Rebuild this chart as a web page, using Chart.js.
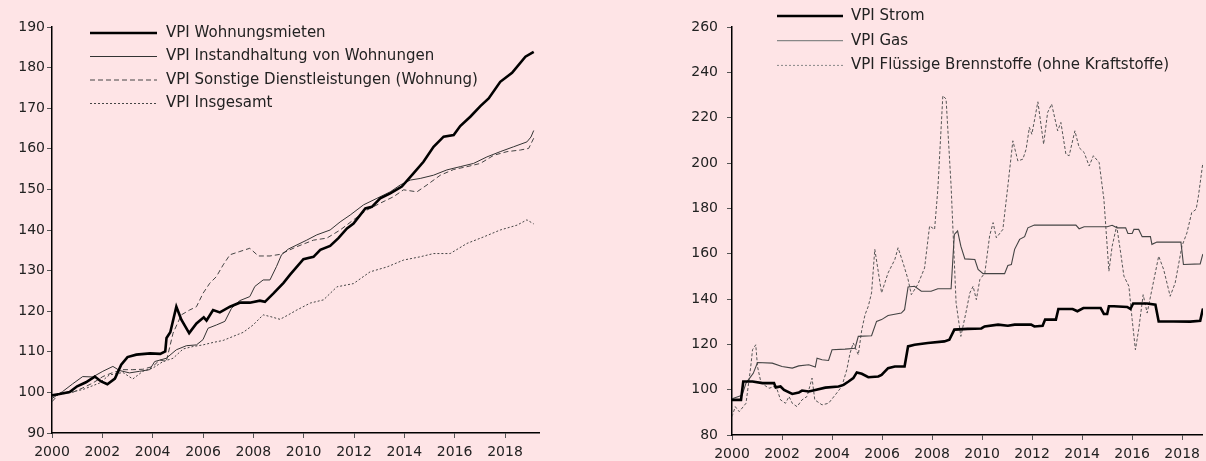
<!DOCTYPE html>
<html>
<head>
<meta charset="utf-8">
<script src="https://cdn.jsdelivr.net/npm/chart.js@4.4.1/dist/chart.umd.min.js"></script>
<style>
      html, body { margin: 0; padding: 0; background: #fee4e6; }
      body { width: 1206px; height: 461px; position: relative; overflow: hidden; }
      canvas { position: absolute; top: 0; }
      #wohnen_chart { left: 0; }
      #energie_chart { left: 640px; }
</style>
</head>
<body>
<canvas id="wohnen_chart" width="560" height="461"></canvas>
<canvas id="energie_chart" width="566" height="461"></canvas>
<script>
// x ticks (years)
const yearTicks = [2000, 2002, 2004, 2006, 2008, 2010, 2012, 2014, 2016, 2018];

// --- left chart: VPI Wohnen ---
const mietenT = [2000.0, 2000.3, 2000.7, 2001.0, 2001.35, 2001.7, 2001.95, 2002.2, 2002.5, 2002.75, 2003.0, 2003.35, 2003.9, 2004.3, 2004.5, 2004.55, 2004.7, 2004.94, 2005.14, 2005.45, 2005.74, 2006.03, 2006.14, 2006.4, 2006.67, 2007.07, 2007.46, 2007.86, 2008.26, 2008.46, 2008.8, 2009.2, 2009.46, 2009.99, 2010.39, 2010.66, 2011.05, 2011.38, 2011.72, 2011.98, 2012.45, 2012.71, 2013.04, 2013.44, 2013.9, 2014.37, 2014.76, 2015.16, 2015.56, 2015.96, 2016.22, 2016.62, 2017.02, 2017.35, 2017.81, 2018.28, 2018.81, 2019.14];
const mietenV = [99.3, 99.6, 100.1, 101.5, 102.5, 103.9, 102.7, 102.0, 103.4, 106.8, 108.7, 109.3, 109.6, 109.5, 110.1, 113.4, 114.8, 121.1, 117.9, 114.6, 117.0, 118.5, 117.7, 120.3, 119.7, 121.1, 122.1, 122.1, 122.6, 122.3, 124.4, 127.0, 129.0, 132.8, 133.4, 135.1, 136.1, 138.0, 140.4, 141.6, 145.3, 145.7, 147.8, 149.0, 150.7, 154.0, 156.8, 160.5, 163.0, 163.4, 165.6, 167.9, 170.5, 172.4, 176.5, 178.7, 182.7, 183.9];

const instandT = [2000.0, 2000.42, 2000.82, 2001.22, 2001.62, 2002.02, 2002.42, 2002.68, 2003.08, 2003.48, 2003.88, 2004.08, 2004.54, 2004.94, 2005.34, 2005.74, 2006.0, 2006.2, 2006.53, 2006.87, 2007.13, 2007.46, 2007.86, 2008.06, 2008.39, 2008.66, 2008.92, 2009.12, 2009.39, 2010.12, 2010.52, 2011.05, 2011.45, 2011.85, 2012.38, 2012.91, 2013.44, 2013.84, 2014.24, 2014.63, 2015.16, 2015.69, 2016.22, 2016.75, 2017.28, 2017.81, 2018.34, 2018.87, 2019.03, 2019.14];
const instandV = [98.5, 100.2, 102.1, 103.9, 103.8, 105.2, 106.4, 105.4, 104.8, 105.2, 105.6, 107.6, 108.4, 110.5, 111.5, 111.7, 113.0, 115.8, 116.6, 117.5, 120.7, 122.6, 123.6, 126.1, 127.7, 127.7, 131.0, 133.9, 135.3, 137.5, 138.8, 140.0, 142.0, 143.7, 146.2, 147.8, 149.4, 151.1, 152.3, 152.7, 153.5, 154.8, 155.6, 156.4, 158.0, 159.3, 160.5, 161.7, 162.9, 164.5];

const sonstT = [2000.0, 2000.3, 2000.82, 2001.22, 2001.62, 2002.02, 2002.42, 2002.82, 2003.21, 2003.61, 2004.01, 2004.28, 2004.54, 2004.81, 2005.14, 2005.47, 2005.74, 2006.0, 2006.27, 2006.53, 2006.8, 2007.07, 2007.46, 2007.86, 2008.2, 2008.66, 2009.06, 2009.73, 2010.39, 2010.92, 2011.45, 2011.98, 2012.51, 2013.04, 2013.57, 2013.97, 2014.5, 2014.9, 2015.43, 2015.96, 2016.49, 2017.02, 2017.55, 2018.08, 2018.61, 2018.94, 2019.14];
const sonstV = [97.7, 99.8, 100.0, 101.1, 102.3, 103.9, 104.9, 105.6, 105.6, 105.7, 106.4, 108.0, 107.6, 114.6, 119.1, 120.3, 121.1, 124.4, 126.9, 128.5, 131.4, 133.9, 134.7, 135.5, 133.6, 133.6, 134.0, 135.9, 137.5, 138.0, 140.0, 142.5, 144.9, 146.6, 148.2, 149.9, 149.4, 151.1, 153.5, 154.9, 155.6, 156.4, 158.4, 159.3, 159.7, 160.1, 162.6];

const gesamtT = [2000.0, 2000.56, 2001.22, 2001.89, 2002.28, 2002.82, 2003.21, 2003.61, 2004.01, 2004.41, 2004.81, 2005.21, 2005.6, 2006.0, 2006.4, 2006.8, 2007.2, 2007.6, 2007.99, 2008.39, 2008.66, 2009.06, 2009.39, 2009.73, 2010.26, 2010.79, 2011.32, 2011.98, 2012.64, 2013.31, 2013.97, 2014.63, 2015.16, 2015.82, 2016.49, 2017.15, 2017.81, 2018.48, 2018.87, 2019.14];
const gesamtV = [99.0, 99.8, 100.7, 102.3, 104.3, 104.9, 103.3, 105.2, 106.0, 107.6, 108.4, 110.7, 111.3, 111.7, 112.3, 112.8, 113.8, 114.8, 116.6, 119.1, 118.7, 118.0, 119.1, 120.3, 122.0, 122.8, 126.0, 126.8, 129.7, 130.9, 132.6, 133.4, 134.2, 134.2, 136.7, 138.3, 140.0, 141.2, 142.5, 141.5];

// --- right chart: VPI Energie ---
const stromT = [2000.0, 2000.36, 2000.45, 2000.82, 2001.22, 2001.68, 2001.75, 2001.94, 2002.08, 2002.41, 2002.67, 2002.8, 2003.07, 2003.33, 2003.73, 2004.26, 2004.46, 2004.66, 2004.85, 2004.99, 2005.19, 2005.45, 2005.85, 2005.98, 2006.24, 2006.51, 2006.9, 2007.04, 2007.3, 2007.83, 2008.49, 2008.69, 2008.89, 2009.42, 2009.97, 2010.1, 2010.64, 2011.03, 2011.3, 2011.96, 2012.09, 2012.42, 2012.52, 2012.95, 2013.05, 2013.62, 2013.81, 2014.05, 2014.74, 2014.87, 2015.0, 2015.07, 2015.27, 2015.8, 2015.93, 2016.04, 2016.6, 2016.93, 2017.06, 2017.66, 2018.32, 2018.72, 2018.82, 2018.9];
const stromV = [95.5, 95.5, 103.6, 103.6, 102.9, 102.9, 101.0, 101.4, 99.9, 98.1, 98.7, 99.6, 99.2, 99.9, 100.9, 101.4, 102.1, 103.6, 105.1, 107.6, 107.0, 105.5, 105.8, 106.5, 109.5, 110.2, 110.2, 119.1, 119.8, 120.6, 121.3, 122.0, 126.5, 126.8, 127.0, 127.9, 128.7, 128.2, 128.7, 128.7, 127.9, 128.2, 130.9, 130.9, 135.6, 135.6, 134.6, 136.0, 136.0, 133.4, 133.4, 136.8, 136.8, 136.5, 135.6, 138.0, 138.0, 137.5, 130.1, 130.1, 130.0, 130.4, 135.3, 135.5];

const gasT = [2000.0, 2000.4, 2000.56, 2000.85, 2001.02, 2001.61, 2002.0, 2002.41, 2002.67, 2003.07, 2003.33, 2003.4, 2003.6, 2003.86, 2004.0, 2004.52, 2004.92, 2005.05, 2005.58, 2005.78, 2005.98, 2006.24, 2006.77, 2006.9, 2007.04, 2007.3, 2007.57, 2007.96, 2008.23, 2008.76, 2008.89, 2009.02, 2009.15, 2009.31, 2009.71, 2009.84, 2010.04, 2010.9, 2011.03, 2011.17, 2011.3, 2011.5, 2011.7, 2011.83, 2012.09, 2013.75, 2013.88, 2014.08, 2015.0, 2015.2, 2015.4, 2015.74, 2015.83, 2016.0, 2016.07, 2016.26, 2016.4, 2016.73, 2016.79, 2016.99, 2017.95, 2018.05, 2018.72, 2018.82, 2018.9];
const gasV = [96.0, 97.5, 102.9, 107.2, 112.0, 111.7, 110.2, 109.5, 110.5, 111.0, 110.0, 113.9, 113.2, 112.9, 117.6, 117.9, 118.3, 123.5, 123.8, 130.1, 130.9, 132.7, 133.8, 135.3, 145.3, 145.6, 143.4, 143.4, 144.5, 144.5, 168.5, 170.0, 163.3, 157.7, 157.4, 153.0, 151.2, 151.2, 154.8, 155.2, 161.9, 166.3, 167.5, 171.4, 172.6, 172.6, 171.0, 171.9, 171.9, 172.5, 171.4, 171.4, 168.9, 168.9, 170.7, 170.7, 167.5, 167.5, 164.1, 165.1, 165.1, 155.2, 155.5, 159.6, 160.0];

const oelT = [2000.0, 2000.13, 2000.29, 2000.56, 2000.75, 2000.82, 2000.95, 2001.02, 2001.15, 2001.28, 2001.48, 2001.68, 2001.81, 2001.94, 2002.14, 2002.28, 2002.41, 2002.6, 2002.8, 2003.0, 2003.2, 2003.31, 2003.6, 2003.86, 2004.13, 2004.39, 2004.59, 2004.72, 2004.85, 2005.05, 2005.19, 2005.32, 2005.45, 2005.58, 2005.71, 2005.98, 2006.24, 2006.51, 2006.64, 2006.84, 2007.04, 2007.17, 2007.43, 2007.7, 2007.9, 2008.1, 2008.23, 2008.43, 2008.56, 2008.76, 2008.96, 2009.15, 2009.35, 2009.51, 2009.64, 2009.77, 2009.91, 2010.11, 2010.3, 2010.44, 2010.57, 2010.83, 2011.03, 2011.23, 2011.43, 2011.63, 2011.76, 2011.89, 2011.99, 2012.23, 2012.46, 2012.62, 2012.78, 2013.02, 2013.15, 2013.35, 2013.48, 2013.71, 2013.88, 2014.08, 2014.28, 2014.45, 2014.68, 2014.87, 2015.07, 2015.2, 2015.38, 2015.54, 2015.67, 2015.87, 2016.0, 2016.13, 2016.26, 2016.44, 2016.6, 2016.79, 2017.06, 2017.26, 2017.52, 2017.72, 2017.99, 2018.19, 2018.38, 2018.56, 2018.65, 2018.82, 2018.9];
const oelV = [88.1, 92.5, 90.3, 94.0, 110.2, 117.6, 119.8, 110.2, 103.6, 102.1, 100.6, 101.4, 99.9, 95.5, 94.0, 97.0, 94.0, 92.5, 95.5, 97.0, 105.1, 95.5, 93.3, 94.0, 97.7, 101.4, 108.8, 116.1, 120.6, 115.4, 126.5, 133.1, 136.8, 142.7, 161.9, 142.7, 151.5, 157.4, 162.6, 155.9, 148.6, 141.9, 146.4, 153.7, 172.2, 170.7, 188.4, 229.7, 228.2, 189.9, 138.3, 123.5, 133.8, 142.7, 145.6, 139.7, 148.6, 151.5, 167.8, 173.7, 167.0, 170.7, 189.9, 209.8, 200.9, 201.7, 206.1, 215.7, 212.7, 227.0, 208.3, 222.3, 226.0, 214.2, 217.9, 203.9, 203.2, 214.2, 206.8, 204.6, 198.7, 203.2, 200.2, 184.0, 152.3, 163.3, 172.2, 160.4, 150.1, 145.6, 130.9, 117.6, 126.5, 141.9, 133.8, 144.2, 158.9, 153.0, 141.2, 147.1, 163.3, 169.2, 178.1, 179.6, 185.5, 199.5, 201.0];

const font_family = '"DejaVu Sans", sans-serif';
const text_color = '#222';

function toPoints(t, v)
{
      return t.map(function (x, i) { return { x: x, y: v[i] }; });
}

function lineSet(label, t, v, width, dash, color)
{
      return {
            label: label,
            data: toPoints(t, v),
            borderColor: color,
            borderWidth: width,
            borderDash: dash,
            pointRadius: 0,
            tension: 0,
            fill: false
      };
}

// legend drawn as a plain list of line samples
const legendPlugin = {
      id: 'lineLegend',
      afterDraw: function (chart, args, opts)
      {
            const ctx = chart.ctx;
            ctx.save();
            ctx.font = '15px ' + font_family;
            ctx.textBaseline = 'middle';
            ctx.fillStyle = text_color;
            opts.items.forEach(function (item, i)
            {
                  const y = opts.top + i * opts.step;
                  ctx.beginPath();
                  ctx.lineWidth = item.width;
                  ctx.strokeStyle = item.color;
                  ctx.setLineDash(item.dash);
                  ctx.moveTo(opts.x0, y);
                  ctx.lineTo(opts.x1, y);
                  ctx.stroke();
                  ctx.setLineDash([]);
                  ctx.fillText(item.text, opts.tx, y);
            });
            ctx.restore();
      }
};

function axisOptions(min, max, step, yWidth, xHeight)
{
      const tickFont = { family: font_family, size: 14 };
      return {
            x: {
                  type: 'linear',
                  min: min.x,
                  max: max.x,
                  afterBuildTicks: function (scale)
                  {
                        scale.ticks = yearTicks.map(function (v) { return { value: v }; });
                  },
                  afterFit: function (scale) { scale.height = xHeight; },
                  ticks: {
                        color: text_color,
                        font: tickFont,
                        padding: 6,
                        maxRotation: 0,
                        autoSkip: false,
                        callback: function (v) { return String(v); }
                  },
                  grid: { drawOnChartArea: false, tickLength: 5, color: '#555' },
                  border: { color: '#000', width: 1.5 }
            },
            y: {
                  min: min.y,
                  max: max.y,
                  afterFit: function (scale) { scale.width = yWidth; },
                  ticks: {
                        stepSize: step,
                        color: text_color,
                        font: tickFont,
                        padding: yWidth > 60 ? 9 : 2,
                        callback: function (v) { return String(v); }
                  },
                  grid: { drawOnChartArea: false, tickLength: 5, color: '#555' },
                  border: { color: '#000', width: 1.5 }
            }
      };
}

new Chart(document.getElementById('wohnen_chart'), {
      type: 'line',
      data: {
            datasets: [
                  lineSet('VPI Wohnungsmieten', mietenT, mietenV, 2.6, [], '#000'),
                  lineSet('VPI Instandhaltung von Wohnungen', instandT, instandV, 1, [], '#333'),
                  lineSet('VPI Sonstige Dienstleistungen (Wohnung)', sonstT, sonstV, 1, [5, 3], '#444'),
                  lineSet('VPI Insgesamt', gesamtT, gesamtV, 1, [2, 2], '#444')
            ]
      },
      options: {
            responsive: false,
            animation: false,
            devicePixelRatio: 1,
            layout: { padding: { top: 27, right: 21, left: 0, bottom: 0 } },
            scales: axisOptions({ x: 2000, y: 90 }, { x: 2019.35, y: 190 }, 10, 52, 28),
            plugins: {
                  legend: { display: false },
                  tooltip: { enabled: false },
                  lineLegend: {
                        x0: 90, x1: 157, tx: 166, top: 33, step: 23.5,
                        items: [
                              { text: 'VPI Wohnungsmieten', width: 2.6, dash: [], color: '#000' },
                              { text: 'VPI Instandhaltung von Wohnungen', width: 1, dash: [], color: '#333' },
                              { text: 'VPI Sonstige Dienstleistungen (Wohnung)', width: 1, dash: [5, 3], color: '#444' },
                              { text: 'VPI Insgesamt', width: 1, dash: [2, 2], color: '#444' }
                        ]
                  }
            }
      },
      plugins: [legendPlugin]
});

new Chart(document.getElementById('energie_chart'), {
      type: 'line',
      data: {
            datasets: [
                  lineSet('VPI Strom', stromT, stromV, 2.6, [], '#000'),
                  lineSet('VPI Gas', gasT, gasV, 1.1, [], '#444'),
                  lineSet('VPI Flüssige Brennstoffe (ohne Kraftstoffe)', oelT, oelV, 1, [3, 2], '#555')
            ]
      },
      options: {
            responsive: false,
            animation: false,
            devicePixelRatio: 1,
            layout: { padding: { top: 27, right: 0, left: 0, bottom: 0 } },
            scales: axisOptions({ x: 2000, y: 80 }, { x: 2018.83, y: 260 }, 20, 92, 26),
            plugins: {
                  legend: { display: false },
                  tooltip: { enabled: false },
                  lineLegend: {
                        x0: 137, x1: 203, tx: 211, top: 16, step: 24.7,
                        items: [
                              { text: 'VPI Strom', width: 2.6, dash: [], color: '#000' },
                              { text: 'VPI Gas', width: 1.2, dash: [], color: '#888' },
                              { text: 'VPI Flüssige Brennstoffe (ohne Kraftstoffe)', width: 1, dash: [2, 2], color: '#888' }
                        ]
                  }
            }
      },
      plugins: [legendPlugin]
});
</script>
</body>
</html>
